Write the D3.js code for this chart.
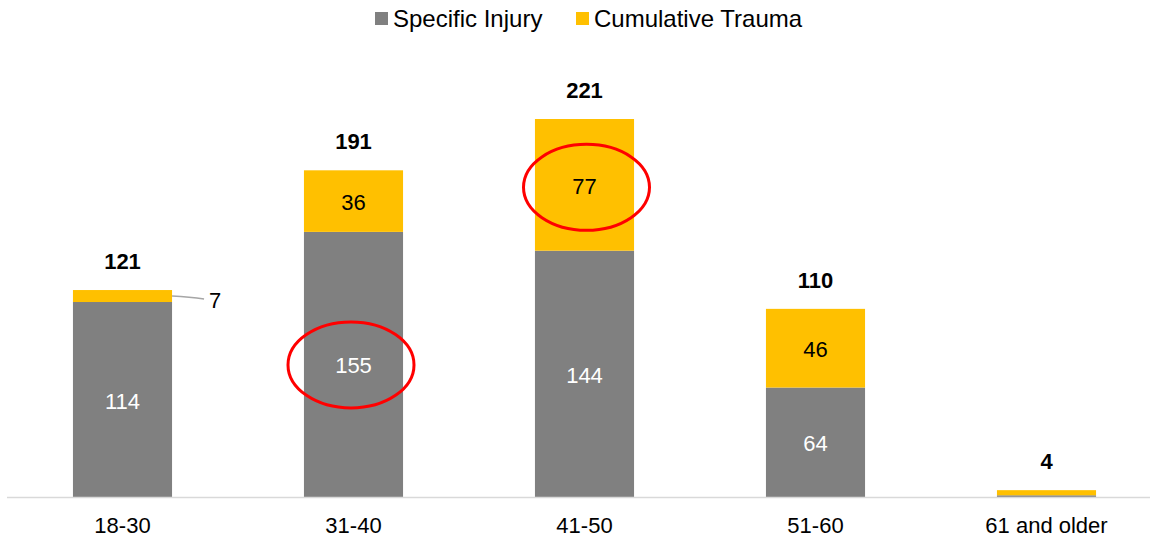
<!DOCTYPE html>
<html>
<head>
<meta charset="utf-8">
<script src="https://cdn.jsdelivr.net/npm/d3@7"></script>
<style>
  body { margin: 0; background: #fff; }
  svg text { font-family: "Liberation Sans", Arial, sans-serif; }
</style>
</head>
<body>
<div id="chart"></div>
<script>
// Data
var categories = ["18-30", "31-40", "41-50", "51-60", "61 and older"];
var specificInjury = [114, 155, 144, 64, 1];
var cumulativeTrauma = [7, 36, 77, 46, 3];
var totals = [121, 191, 221, 110, 4];
var seriesNames = ["Specific Injury", "Cumulative Trauma"];
var highlighted = [
  { series: 0, index: 1, dx: -2.5, dy: 0.5 },
  { series: 1, index: 2, dx: 2, dy: 2.5 }
];

var colorGray = "#808080";
var colorYellow = "#FFC000";

var W = 1154, H = 544;
var margin = { top: 0, right: 0, bottom: 47, left: 7 };

var svg = d3.select("#chart").append("svg")
  .attr("width", W)
  .attr("height", H);

var x = d3.scaleBand()
  .domain(categories)
  .range([margin.left, margin.left + 5 * 231])
  .paddingInner(0.571)
  .paddingOuter(0.2855);

var y = d3.scaleLinear()
  .domain([0, 221])
  .range([H - margin.bottom, H - margin.bottom - 378]);

var rows = categories.map(function (c, i) {
  return { cat: c, s: specificInjury[i], t: cumulativeTrauma[i], total: totals[i] };
});

var stack = d3.stack().keys(["s", "t"])(rows);
var colors = [colorGray, colorYellow];

// Bars
stack.forEach(function (layer, li) {
  svg.append("g").selectAll("rect")
    .data(layer)
    .enter().append("rect")
    .attr("x", function (d) { return x(d.data.cat); })
    .attr("width", x.bandwidth())
    .attr("y", function (d) { return y(d[1]); })
    .attr("height", function (d) { return y(d[0]) - y(d[1]); })
    .attr("fill", colors[li]);
});

// Axis line
svg.append("line")
  .attr("x1", margin.left).attr("x2", W - 4)
  .attr("y1", y(0) + 0.5).attr("y2", y(0) + 0.5)
  .attr("stroke", "#D9D9D9")
  .attr("stroke-width", 1.5);

// Category labels
svg.append("g").selectAll("text")
  .data(categories)
  .enter().append("text")
  .attr("x", function (d) { return x(d) + x.bandwidth() / 2; })
  .attr("y", y(0) + 36)
  .attr("text-anchor", "middle")
  .attr("font-size", "22px")
  .attr("fill", "#000")
  .text(function (d) { return d; });

// Segment labels (skip tiny segments)
stack.forEach(function (layer, li) {
  svg.append("g").selectAll("text")
    .data(layer.filter(function (d) { return d[1] - d[0] >= 20; }))
    .enter().append("text")
    .attr("x", function (d) { return x(d.data.cat) + x.bandwidth() / 2; })
    .attr("y", function (d) { return (y(d[0]) + y(d[1])) / 2 + 9; })
    .attr("text-anchor", "middle")
    .attr("font-size", "22px")
    .attr("fill", li === 0 ? "#fff" : "#000")
    .text(function (d) { return d[1] - d[0]; });
});

// Callout for the small "7" segment
var small = stack[1][0];
var sy = (y(small[0]) + y(small[1])) / 2;
var sx = x(small.data.cat) + x.bandwidth();
svg.append("path")
  .attr("d", "M" + sx + "," + sy + " Q" + (sx + 18) + "," + (sy + 1) + " " + (sx + 32) + "," + (sy + 3))
  .attr("fill", "none")
  .attr("stroke", "#A6A6A6")
  .attr("stroke-width", 1.5);
svg.append("text")
  .attr("x", sx + 37)
  .attr("y", sy + 12)
  .attr("font-size", "22px")
  .attr("fill", "#000")
  .text(small.data.t);

// Totals
svg.append("g").selectAll("text")
  .data(rows)
  .enter().append("text")
  .attr("x", function (d) { return x(d.cat) + x.bandwidth() / 2; })
  .attr("y", function (d) { return y(d.total) - 21; })
  .attr("text-anchor", "middle")
  .attr("font-size", "22px")
  .attr("font-weight", "bold")
  .attr("fill", "#000")
  .text(function (d) { return d.total; });

// Red highlight ellipses
highlighted.forEach(function (h) {
  var d = stack[h.series][h.index];
  svg.append("ellipse")
    .attr("cx", x(d.data.cat) + x.bandwidth() / 2 + h.dx)
    .attr("cy", (y(d[0]) + y(d[1])) / 2 + h.dy)
    .attr("rx", 63)
    .attr("ry", 43)
    .attr("fill", "none")
    .attr("stroke", "#FF0000")
    .attr("stroke-width", 3);
});

// Legend
var legend = svg.append("g");
var legendX = [375, 576];
seriesNames.forEach(function (name, i) {
  legend.append("rect")
    .attr("x", legendX[i]).attr("y", 12)
    .attr("width", 13).attr("height", 13)
    .attr("fill", colors[i]);
  legend.append("text")
    .attr("x", legendX[i] + 18).attr("y", 27)
    .attr("font-size", "24px")
    .attr("fill", "#000")
    .text(name);
});
</script>
</body>
</html>
